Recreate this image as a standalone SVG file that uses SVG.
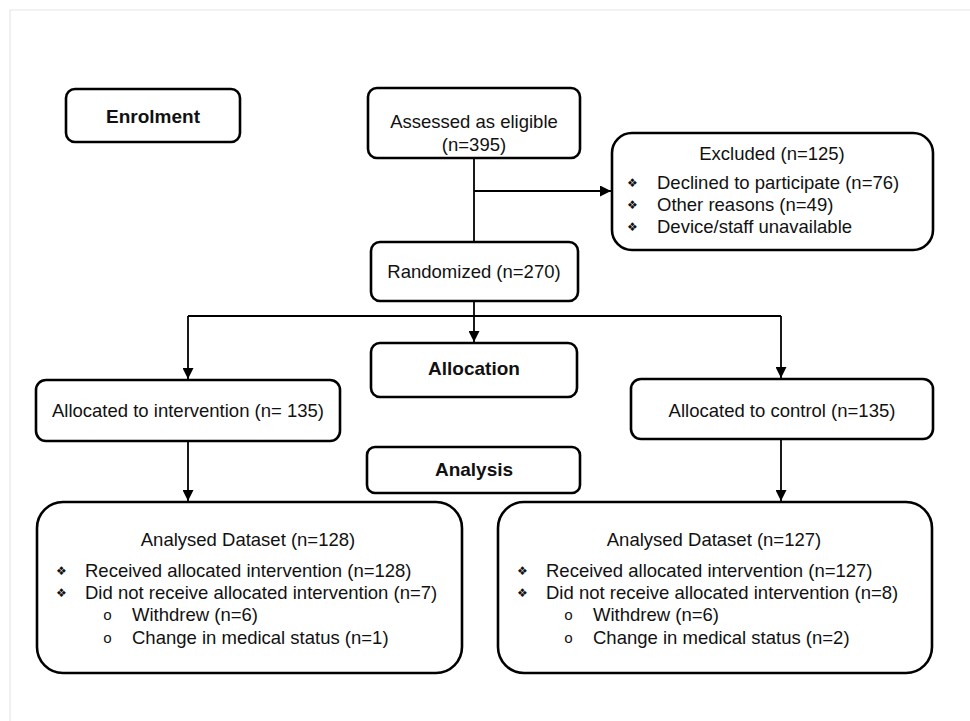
<svg xmlns="http://www.w3.org/2000/svg" width="970" height="721" viewBox="0 0 970 721">
<style>
.box{fill:#fff;stroke:#000;stroke-width:2.6}
.t{font-family:"Liberation Sans",Arial,sans-serif;font-size:18.5px;fill:#111}
.b{font-family:"Liberation Sans",Arial,sans-serif;font-size:19px;font-weight:bold;fill:#111}
.m{text-anchor:middle}
.bul{font-family:"DejaVu Sans",sans-serif;font-size:12px;fill:#111}
.o{font-family:"Liberation Mono",monospace;font-size:15px;fill:#111}
.c{fill:none;stroke:#000;stroke-width:1.8}
</style>
<defs>
<marker id="ah" viewBox="0 0 10 10" refX="10" refY="5" markerWidth="11" markerHeight="11" markerUnits="userSpaceOnUse" orient="auto">
<path d="M0,0 L10,5 L0,10 z" fill="#000"/>
</marker>
</defs>
<rect width="970" height="721" fill="#fff"/>
<path d="M10,721 V10 H970" fill="none" stroke="#e6e6e6" stroke-width="1.2"/>

<g id="connectors">
<path class="c" d="M474,158 V242"/>
<path class="c" d="M474,191 H611" marker-end="url(#ah)"/>
<path class="c" d="M474,301 V342" marker-end="url(#ah)"/>
<path class="c" d="M188,316 H781"/>
<path class="c" d="M188,316 V379" marker-end="url(#ah)"/>
<path class="c" d="M781,316 V378" marker-end="url(#ah)"/>
<path class="c" d="M188,441 V501" marker-end="url(#ah)"/>
<path class="c" d="M781,439 V501" marker-end="url(#ah)"/>
</g>

<g id="enrolment">
<rect class="box" x="66" y="89" width="174" height="53" rx="9"/>
<text class="b m" x="153" y="122.5">Enrolment</text>
</g>

<g id="assessed">
<rect class="box" x="368" y="88" width="212" height="70" rx="9"/>
<text class="t m" x="474" y="128">Assessed as eligible</text>
<text class="t m" x="474" y="151">(n=395)</text>
</g>

<g id="excluded">
<rect class="box" x="612" y="133" width="321" height="117" rx="20"/>
<text class="t m" x="772" y="160">Excluded (n=125)</text>
<text class="bul" x="627" y="187">❖</text>
<text class="t" x="657" y="188.5">Declined to participate (n=76)</text>
<text class="bul" x="627" y="209">❖</text>
<text class="t" x="657" y="210.5">Other reasons (n=49)</text>
<text class="bul" x="627" y="231">❖</text>
<text class="t" x="657" y="232.5">Device/staff unavailable</text>
</g>

<g id="randomized">
<rect class="box" x="371" y="242" width="207" height="59" rx="9"/>
<text class="t m" x="474" y="278">Randomized (n=270)</text>
</g>

<g id="allocation">
<rect class="box" x="371" y="343" width="206" height="54" rx="9"/>
<text class="b m" x="474" y="375">Allocation</text>
</g>

<g id="alloc-intervention">
<rect class="box" x="36" y="380" width="304" height="61" rx="10"/>
<text class="t m" x="188" y="417">Allocated to intervention (n= 135)</text>
</g>

<g id="alloc-control">
<rect class="box" x="631" y="379" width="302" height="60" rx="10"/>
<text class="t m" x="782" y="416.5">Allocated to control (n=135)</text>
</g>

<g id="analysis">
<rect class="box" x="367" y="447" width="213" height="46" rx="8"/>
<text class="b m" x="474" y="476">Analysis</text>
</g>

<g id="analysed-intervention">
<rect class="box" x="37" y="502" width="425" height="171" rx="26"/>
<text class="t m" x="248" y="546">Analysed Dataset (n=128)</text>
<text class="bul" x="56" y="575">❖</text>
<text class="t" x="85" y="576.5">Received allocated intervention (n=128)</text>
<text class="bul" x="56" y="597">❖</text>
<text class="t" x="85" y="598.5">Did not receive allocated intervention (n=7)</text>
<text class="o" x="103" y="620">o</text>
<text class="t" x="132" y="621">Withdrew (n=6)</text>
<text class="o" x="103" y="643">o</text>
<text class="t" x="132" y="643.5">Change in medical status (n=1)</text>
</g>

<g id="analysed-control">
<rect class="box" x="498" y="502" width="434" height="171" rx="26"/>
<text class="t m" x="714" y="546">Analysed Dataset (n=127)</text>
<text class="bul" x="517" y="575">❖</text>
<text class="t" x="546" y="576.5">Received allocated intervention (n=127)</text>
<text class="bul" x="517" y="597">❖</text>
<text class="t" x="546" y="598.5">Did not receive allocated intervention (n=8)</text>
<text class="o" x="564" y="620">o</text>
<text class="t" x="593" y="621">Withdrew (n=6)</text>
<text class="o" x="564" y="643">o</text>
<text class="t" x="593" y="643.5">Change in medical status (n=2)</text>
</g>
</svg>
